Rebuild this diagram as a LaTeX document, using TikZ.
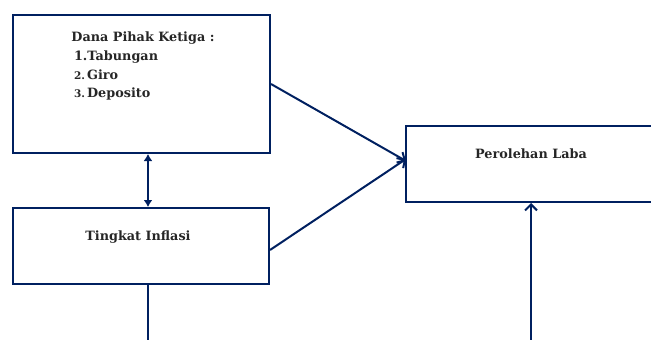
\documentclass[tikz,border=0pt]{standalone}
\usepackage{fontspec}
\setmainfont{DejaVu Serif}
\usetikzlibrary{arrows.meta,positioning}
\definecolor{navy}{HTML}{002060}
\begin{document}
\begin{tikzpicture}[
			x = 1pt, y = -1pt, % pixel grid, y downwards
			line width = 2pt, % line style
			draw = navy,
			font=\bfseries\fontsize{12.8}{15}\selectfont
			]
			
			\tikzstyle{kotak}=[
			draw = navy,
			rectangle,
			inner sep = 0pt,
			fill = white
			]
			\tikzstyle{teks}=[
			text = black!85,
			inner sep = 0pt,
			align = left
			]
			
			\clip (0,0) rectangle (651,340);
			\useasboundingbox (0,0) rectangle (651,340);
			
			\node[kotak, minimum width=257pt, minimum height=138pt] (dana) at (141.5,84) {};
			\node[kotak, minimum width=256pt, minimum height=76pt] (inflasi) at (141,246) {};
			\node[kotak, minimum width=250pt, minimum height=76pt] (laba) at (531,164) {};
			
			\node[teks] (tdana) at (143,38) {Dana Pihak Ketiga :};
			\node[teks, anchor=west] (t1) at (73,57) {1.Tabungan};
			\node[teks, anchor=west] (t2) at (73,75) {{\fontsize{10.5}{12}\selectfont 2.}\,Giro};
			\node[teks, anchor=west] (t3) at (73,94) {{\fontsize{10.5}{12}\selectfont 3.}\,Deposito};
			\node[teks] (tinflasi) at (138,237) {Tingkat Inflasi};
			\node[teks] (tlaba) at (531,154) {Perolehan Laba};
			
			\coordinate (masuk) at (406,159);
			\coordinate (bawahkiri) at (148,341);
			\coordinate (bawahkanan) at (531,341);
			
			\path[-{Straight Barb[length=6pt,width=12pt]}, navy]
			(dana.east) edge ([yshift=-2pt]masuk)
			([yshift=-4pt]inflasi.east) edge (masuk)
			(bawahkanan) edge (laba.south);
			
			\path[{Latex[length=7pt,width=9pt]}-{Latex[length=7pt,width=9pt]}, navy]
			([xshift=6.5pt]dana.south) edge ([xshift=7pt]inflasi.north);
			
			\draw[navy] ([xshift=7pt]inflasi.south) -- (bawahkiri);
			
		\end{tikzpicture}
\end{document}
